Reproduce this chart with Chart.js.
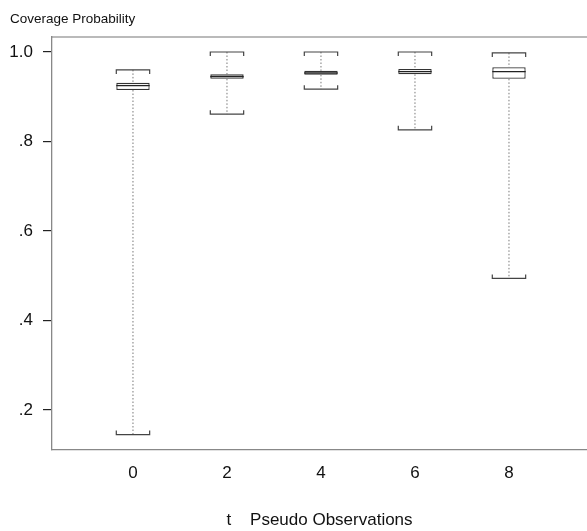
<!DOCTYPE html>
<html>
<head>
<meta charset="utf-8">
<script src="https://cdn.jsdelivr.net/npm/chart.js@4/dist/chart.umd.min.js"></script>
<style>
  html, body { margin: 0; padding: 0; background: #fff; }
  #wrap { width: 587px; height: 531px; }
</style>
</head>
<body>
<div id="wrap"><canvas id="myChart"></canvas></div>
<script>
// number of pseudo observations t
const tValues = [0, 2, 4, 6, 8];
// box plot summaries of coverage probability
const whiskerLow  = [0.145, 0.861, 0.917, 0.826, 0.494];
const quartile1   = [0.915, 0.940, 0.949, 0.950, 0.940];
const medians     = [0.925, 0.945, 0.953, 0.956, 0.956];
const quartile3   = [0.931, 0.950, 0.958, 0.962, 0.966];
const whiskerHigh = [0.960, 1.000, 1.000, 1.000, 0.998];

const yTicks = [0.2, 0.4, 0.6, 0.8, 1.0];
const yTickLabels = ['.2', '.4', '.6', '.8', '1.0'];
const xTickLabels = ['0', '2', '4', '6', '8'];

const boxHalf = 0.355; // half width of a box in x units

let ctx = document.getElementById('myChart').getContext('2d');

// draws medians, dotted whiskers and bracket caps on top of the boxes
const whiskerPlugin = {
    id: 'whiskers',
    afterDatasetsDraw(chart) {
        let x = chart.scales.x, y = chart.scales.y;
        let c = chart.ctx;
        c.save();
        tValues.forEach((t, i) => {
            let xc = x.getPixelForValue(t);
            let xl = x.getPixelForValue(t - boxHalf);
            let xr = x.getPixelForValue(t + boxHalf);
            let yq1 = y.getPixelForValue(quartile1[i]);
            let yq3 = y.getPixelForValue(quartile3[i]);
            let ymed = y.getPixelForValue(medians[i]);
            let ylo = y.getPixelForValue(whiskerLow[i]);
            let yhi = y.getPixelForValue(whiskerHigh[i]);

            // dotted whiskers
            c.strokeStyle = '#777';
            c.lineWidth = 1;
            c.setLineDash([1.5, 2]);
            c.beginPath();
            c.moveTo(xc, yhi);
            c.lineTo(xc, yq3);
            c.moveTo(xc, yq1);
            c.lineTo(xc, ylo);
            c.stroke();
            c.setLineDash([]);

            // caps
            c.strokeStyle = '#444';
            c.lineWidth = 1.2;
            c.beginPath();
            c.moveTo(xl, yhi + 4);
            c.lineTo(xl, yhi);
            c.lineTo(xr, yhi);
            c.lineTo(xr, yhi + 4);
            c.moveTo(xl, ylo - 4);
            c.lineTo(xl, ylo);
            c.lineTo(xr, ylo);
            c.lineTo(xr, ylo - 4);
            c.stroke();

            // median
            c.strokeStyle = '#222';
            c.lineWidth = 1.3;
            c.beginPath();
            c.moveTo(xl, ymed);
            c.lineTo(xr, ymed);
            c.stroke();
        });

        // top frame line
        let area = chart.chartArea;
        c.strokeStyle = '#777';
        c.lineWidth = 1.2;
        c.beginPath();
        c.moveTo(area.left, area.top);
        c.lineTo(area.right, area.top);
        c.stroke();
        c.restore();
    }
};

let myChart = new Chart(ctx, {
    type: 'bar',
    data: {
        datasets: [{
            label: 'Coverage',
            data: tValues.map((t, i) => ({ x: t, y: [quartile1[i], quartile3[i]] })),
            backgroundColor: 'rgba(255,255,255,1)',
            borderColor: '#333',
            borderWidth: 1.3,
            borderSkipped: false,
            barPercentage: 0.355,
            categoryPercentage: 1.0,
        }]
    },
    options: {
        responsive: true,
        maintainAspectRatio: false,
        animation: false,
        layout: { padding: { left: 10, right: 0, top: 0, bottom: 0 } },
        plugins: {
            legend: { display: false },
            tooltip: { enabled: false },
            title: {
                display: true,
                text: 'Coverage Probability',
                align: 'start',
                color: '#111',
                font: { family: 'Liberation Sans', size: 13.5, weight: 'normal' },
                padding: { top: 11, bottom: 9.8 }
            }
        },
        scales: {
            x: {
                type: 'linear',
                min: -1.723,
                max: 9.66,
                offset: false,
                grid: { display: false, drawTicks: false },
                border: { display: true, color: '#888', width: 1.3 },
                afterBuildTicks: function(scale) {
                    scale.ticks = tValues.map(v => ({ value: v }));
                },
                afterFit: function(scale) {
                    scale.height = 81;
                },
                ticks: {
                    padding: 13,
                    color: '#111',
                    font: { family: 'Liberation Sans', size: 17 },
                    callback: function(value, index) {
                        return xTickLabels[index];
                    }
                },
                title: {
                    display: true,
                    text: 't    Pseudo Observations',
                    color: '#111',
                    font: { family: 'Liberation Sans', size: 17 },
                    padding: { top: 0, bottom: 0 }
                }
            },
            y: {
                min: 0.1106,
                max: 1.0335,
                grid: {
                    display: true,
                    drawOnChartArea: false,
                    drawTicks: true,
                    tickLength: 9,
                    color: '#222',
                    lineWidth: 1.2
                },
                border: { display: true, color: '#888', width: 1.3 },
                afterBuildTicks: function(scale) {
                    scale.ticks = yTicks.map(v => ({ value: v }));
                },
                afterFit: function(scale) {
                    scale.width = 42;
                },
                ticks: {
                    padding: 10,
                    color: '#111',
                    font: { family: 'Liberation Sans', size: 17 },
                    callback: function(value, index) {
                        return yTickLabels[index];
                    }
                }
            }
        }
    },
    plugins: [whiskerPlugin]
});
</script>
</body>
</html>
